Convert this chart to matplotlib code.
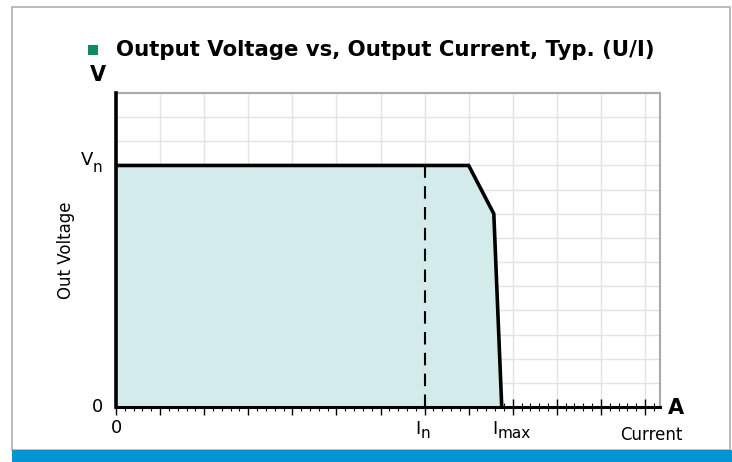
import matplotlib.pyplot as plt
from matplotlib.patches import Rectangle

# U/I curve (grid units: 1 div per grid line)
current = [0, 8, 8.57, 8.75]
voltage = [10, 10, 8, 0]
i_nom = 7
v_nom = 10
i_max = 8.75

W, H = 732, 462
fig = plt.figure(figsize=(W / 100, H / 100), dpi=100)

def fx(px):
    return px / W

def fy(py):
    return 1 - py / H

# outer frame and blue bar
fig.patches.append(Rectangle((fx(12), fy(450)), fx(718), 443 / H, transform=fig.transFigure,
                             fill=False, edgecolor='#b0b0b0', lw=1.2))
fig.patches.append(Rectangle((fx(12), 0), fx(720), 12 / H, transform=fig.transFigure,
                             facecolor='#0096d6', edgecolor='none'))

ax = fig.add_axes([fx(116), fy(407), 544 / W, 314 / H])
ax.set_xlim(0, 12.34)
ax.set_ylim(0, 13)

ax.fill_between(current, voltage, 0, color='#d3ebea', zorder=1)
ax.plot(current, voltage, color='black', lw=2.6, zorder=4, solid_joinstyle='miter')
ax.plot([i_nom, i_nom], [0, v_nom], color='black', lw=1.5, ls=(0, (6, 4)), zorder=3)

ax.set_xticks(range(0, 13))
ax.set_yticks(range(0, 14))
ax.set_xticks([i / 5 for i in range(0, 62)], minor=True)
ax.grid(True, color='#e3e3e3', lw=1, zorder=0)
ax.set_axisbelow(True)
ax.tick_params(axis='x', which='major', direction='inout', length=11, width=1, labelbottom=False)
ax.tick_params(axis='x', which='minor', direction='inout', length=6, width=0.8)
ax.tick_params(axis='y', length=0, labelleft=False)

ax.spines['left'].set_linewidth(2.6)
ax.spines['bottom'].set_linewidth(2.2)
ax.spines['left'].set_zorder(5)
ax.spines['bottom'].set_zorder(5)
ax.spines['top'].set_color('#aaaaaa')
ax.spines['right'].set_color('#aaaaaa')
ax.spines['top'].set_linewidth(1.5)
ax.spines['right'].set_linewidth(1.5)

fs = 13
sub = 11

# x tick labels: "0", I_n, I_max
ax.annotate('0', (0, 0), xytext=(0, -18.5), textcoords='offset points',
            ha='center', va='baseline', fontsize=fs)
for pos, s in [(i_nom, 'n'), (i_max, 'max')]:
    ax.annotate('I', (pos, 0), xytext=(-6.5, -19.4), textcoords='offset points',
                ha='left', va='baseline', fontsize=fs)
    ax.annotate(s, (pos, 0), xytext=(-3.2, -22.3), textcoords='offset points',
                ha='left', va='baseline', fontsize=sub)

# y labels: 0 and V_n
ax.annotate('0', (0, 0), xytext=(-13.5, 0), textcoords='offset points',
            ha='center', va='center', fontsize=fs)
ax.annotate('V', (0, v_nom), xytext=(-16.5, 0.5), textcoords='offset points',
            ha='right', va='baseline', fontsize=fs)
ax.annotate('n', (0, v_nom), xytext=(-16.5, -5), textcoords='offset points',
            ha='left', va='baseline', fontsize=sub)

fig.text(fx(66), fy(250), 'Out Voltage', rotation=90, ha='center', va='center', fontsize=12)
fig.text(fx(651), fy(440), 'Current', ha='center', va='baseline', fontsize=12)
fig.text(fx(98), fy(75), 'V', ha='center', va='center', fontsize=15, fontweight='bold')
fig.text(fx(676), fy(408), 'A', ha='center', va='center', fontsize=15, fontweight='bold')

fig.patches.append(Rectangle((fx(88), fy(55)), 10 / W, 10 / H, transform=fig.transFigure,
                             facecolor='#0b8c63', edgecolor='none'))
fig.text(fx(116), fy(50), 'Output Voltage vs, Output Current, Typ. (U/I)', ha='left', va='center',
         fontsize=15.3, fontweight='bold')

fig.savefig('out.png', dpi=100)
